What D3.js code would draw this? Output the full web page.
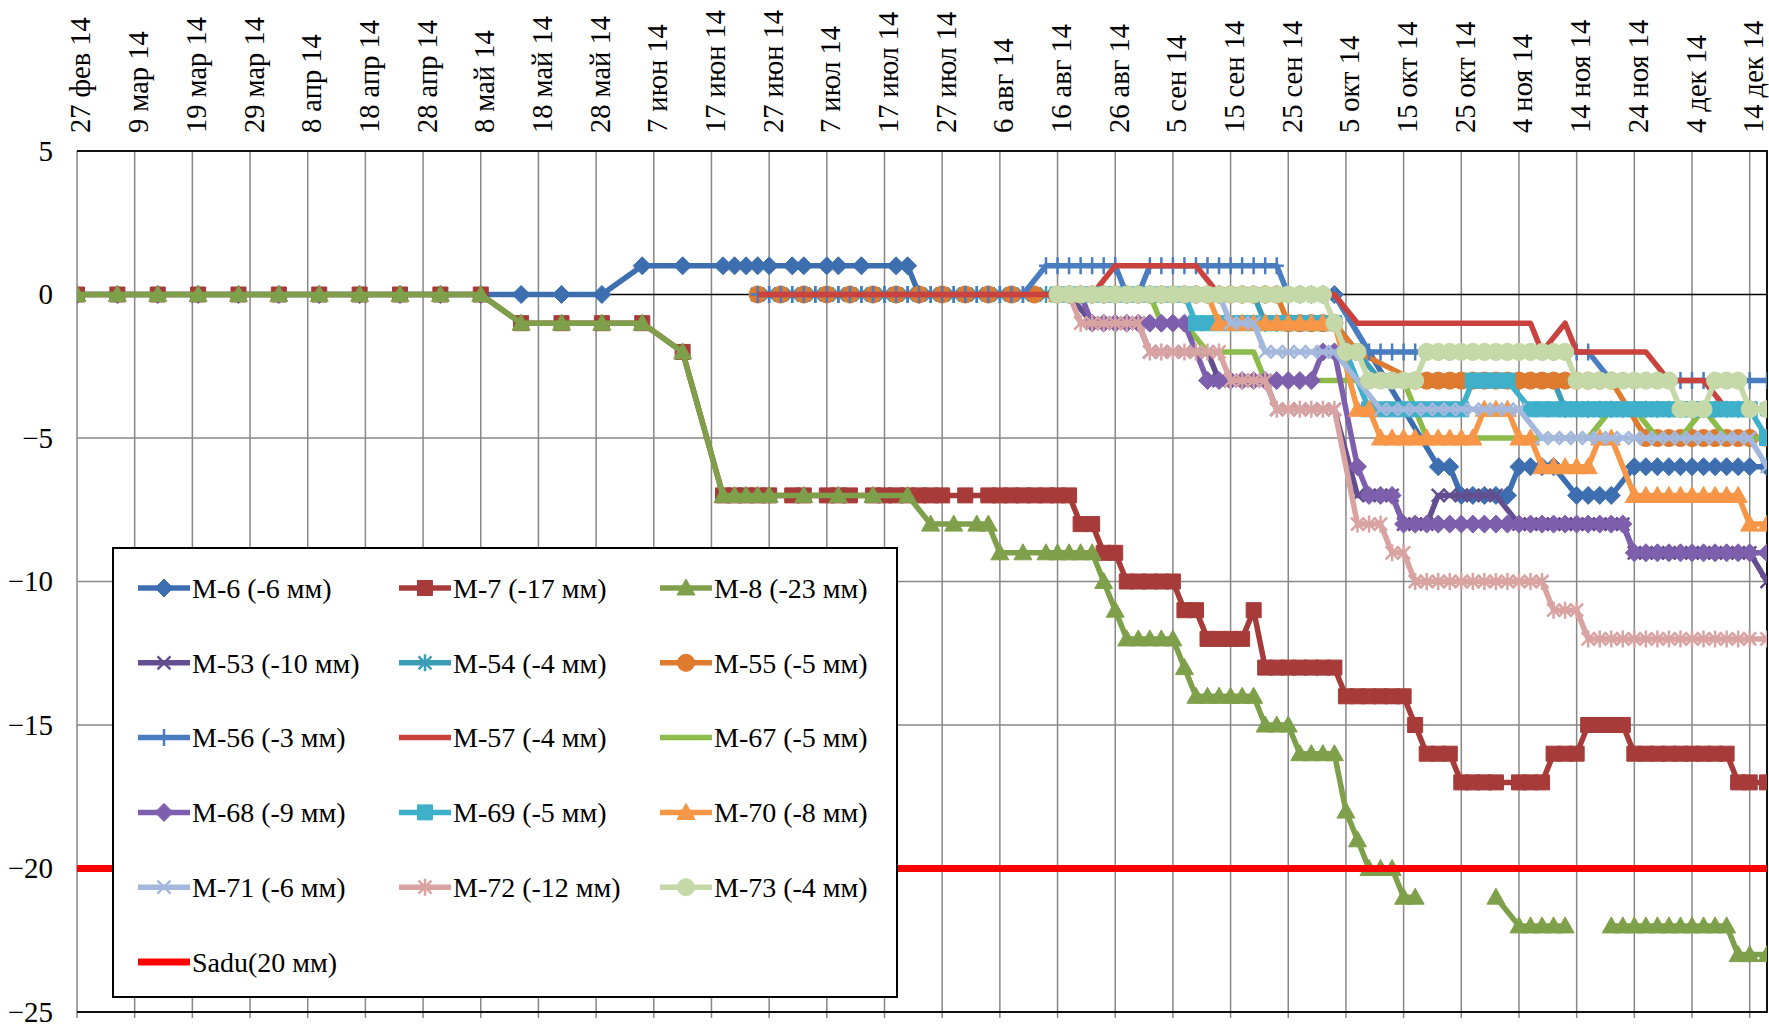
<!DOCTYPE html>
<html>
<head>
<meta charset="utf-8">
<script src="https://cdnjs.cloudflare.com/ajax/libs/d3/7.8.5/d3.min.js"></script>
<style>
  body { margin: 0; background: #fff; }
  svg text { font-family: "Times New Roman", "Liberation Serif", serif; fill: #000; }
</style>
</head>
<body>
<div id="app"></div>
<script>
var startDate = new Date(2014, 1, 27);

var tickDates = ["2014-02-27", "2014-03-09", "2014-03-19", "2014-03-29", "2014-04-08", "2014-04-18",
  "2014-04-28", "2014-05-08", "2014-05-18", "2014-05-28", "2014-06-07", "2014-06-17", "2014-06-27",
  "2014-07-07", "2014-07-17", "2014-07-27", "2014-08-06", "2014-08-16", "2014-08-26", "2014-09-05",
  "2014-09-15", "2014-09-25", "2014-10-05", "2014-10-15", "2014-10-25", "2014-11-04", "2014-11-14",
  "2014-11-24", "2014-12-04", "2014-12-14"];
var tickLabels = ["27 фев 14", "9 мар 14", "19 мар 14", "29 мар 14", "8 апр 14", "18 апр 14",
  "28 апр 14", "8 май 14", "18 май 14", "28 май 14", "7 июн 14", "17 июн 14", "27 июн 14",
  "7 июл 14", "17 июл 14", "27 июл 14", "6 авг 14", "16 авг 14", "26 авг 14", "5 сен 14",
  "15 сен 14", "25 сен 14", "5 окт 14", "15 окт 14", "25 окт 14", "4 ноя 14", "14 ноя 14",
  "24 ноя 14", "4 дек 14", "14 дек 14"];
var yTicks = [5, 0, -5, -10, -15, -20, -25];

// measurement days, counted from 27 фев 14
var days = [
  0, 7, 14, 21, 28, 35, 42, 49, 56, 63,
  70, 77, 84, 91, 98, 105, 112, 114, 116, 118,
  120, 122, 124, 126, 128, 130, 132, 134, 136, 138,
  140, 142, 144, 146, 148, 150, 152, 154, 156, 158,
  160, 162, 164, 166, 168, 170, 172, 174, 176, 178,
  180, 182, 184, 186, 188, 190, 192, 194, 196, 198,
  200, 202, 204, 206, 208, 210, 212, 214, 216, 218,
  220, 222, 224, 226, 228, 230, 232, 234, 236, 238,
  240, 242, 244, 246, 248, 250, 252, 254, 256, 258,
  260, 262, 264, 266, 268, 270, 272, 274, 276, 278,
  280, 282, 284, 286, 288, 290, 293
];

// settlement, mm (null = no reading)
var m6 = [
  0, 0, 0, 0, 0, 0, 0, 0, 0, 0,
  0, 0, 0, 0, 1, 1, 1, 1, 1, 1,
  1, null, 1, 1, null, 1, 1, null, 1, null,
  null, 1, 1, 0, null, null, null, null, null, null,
  null, null, null, null, null, 0, 0, 0, 0, 0,
  0, 0, 0, 0, 0, 0, 0, 0, 0, 0,
  0, 0, 0, 0, 0, 0, 0, 0, 0, 0,
  null, null, null, null, null, null, null, null, -6, -6,
  -7, -7, -7, -7, -7, -6, -6, -6, -6, null,
  -7, -7, -7, -7, null, -6, -6, -6, -6, -6,
  -6, -6, -6, -6, -6, -6, -6
];
var m7 = [
  0, 0, 0, 0, 0, 0, 0, 0, 0, 0,
  0, -1, -1, -1, -1, -2, -7, -7, -7, -7,
  -7, null, -7, -7, null, -7, -7, -7, null, -7,
  -7, -7, -7, -7, -7, -7, null, -7, null, -7,
  -7, -7, -7, -7, -7, -7, -7, -8, -8, -9,
  -9, -10, -10, -10, -10, -10, -11, -11, -12, -12,
  -12, -12, -11, -13, -13, -13, -13, -13, -13, -13,
  -14, -14, -14, -14, -14, -14, -15, -16, -16, -16,
  -17, -17, -17, -17, null, -17, -17, -17, -16, -16,
  -16, -15, -15, -15, -15, -16, -16, -16, -16, -16,
  -16, -16, -16, -16, -17, -17, -17
];
var m8 = [
  0, 0, 0, 0, 0, 0, 0, 0, 0, 0,
  0, -1, -1, -1, -1, -2, -7, -7, -7, -7,
  -7, null, null, -7, null, null, -7, null, null, -7,
  null, null, -7, null, -8, null, -8, null, -8, -8,
  -9, null, -9, null, -9, -9, -9, -9, -9, -10,
  -11, -12, -12, -12, -12, -12, -13, -14, -14, -14,
  -14, -14, -14, -15, -15, -15, -16, -16, -16, -16,
  -18, -19, -20, -20, -20, -21, -21, null, null, null,
  null, null, null, -21, null, -22, -22, -22, -22, -22,
  null, null, null, -22, -22, -22, -22, -22, -22, -22,
  -22, -22, -22, -22, -23, -23, -23
];
var m8Gaps = [[232, 246], [258, 266]];
var m53 = [
  null, null, null, null, null, null, null, null, null, null,
  null, null, null, null, null, null, null, null, null, 0,
  0, 0, 0, 0, 0, 0, 0, 0, 0, 0,
  0, 0, 0, 0, 0, 0, 0, 0, 0, 0,
  0, 0, 0, 0, 0, 0, 0, null, -1, -1,
  -1, -1, -1, -2, -2, -2, -2, -2, -2, -3,
  -3, -3, -3, -3, -4, -4, -4, -4, -4, -4,
  null, -7, -7, -7, -7, -8, -8, -8, -7, -7,
  -7, -7, -7, -7, null, -8, -8, -8, -8, -8,
  -8, -8, -8, -8, -8, -9, -9, -9, -9, -9,
  -9, -9, -9, -9, -9, -9, -10
];
var m54 = [
  null, null, null, null, null, null, null, null, null, null,
  null, null, null, null, null, null, null, null, null, 0,
  0, 0, 0, 0, 0, 0, 0, 0, 0, 0,
  0, 0, 0, 0, 0, 0, 0, 0, 0, 0,
  0, 0, 0, 0, 0, 0, 0, 0, 0, 0,
  0, 0, 0, 0, 0, 0, 0, 0, 0, 0,
  0, 0, 0, -1, -1, -1, -1, -1, -1, -1,
  null, null, null, -3, -3, -3, -3, -3, -3, -3,
  -3, -3, -3, -3, -3, -3, -3, -3, -3, -4,
  -4, -4, -4, -4, -4, -4, -4, -4, -4, -4,
  -4, -4, -4, -4, -4, -4, -4
];
var m55 = [
  null, null, null, null, null, null, null, null, null, null,
  null, null, null, null, null, null, null, null, null, 0,
  null, 0, null, 0, null, 0, null, 0, null, 0,
  null, 0, null, 0, null, 0, null, 0, null, 0,
  null, 0, null, 0, null, 0, 0, 0, 0, 0,
  0, 0, 0, 0, 0, 0, 0, 0, 0, 0,
  0, 0, 0, 0, 0, -1, -1, -1, -1, -1,
  null, -2, null, null, null, null, -3, -3, -3, -3,
  -3, -3, -3, -3, -3, -3, -3, -3, -3, -3,
  -3, -3, -3, -3, null, null, -5, -5, -5, -5,
  -5, -5, -5, -5, -5, -5, -5
];
var m56 = [
  null, null, null, null, null, null, null, null, null, null,
  null, null, null, null, null, null, null, null, null, 0,
  0, 0, 0, 0, 0, 0, 0, 0, 0, 0,
  0, 0, 0, 0, 0, 0, 0, 0, 0, 0,
  0, 0, 0, null, 1, 1, 1, 1, 1, 1,
  1, 0, 0, 1, 1, 1, 1, 1, 1, 1,
  1, 1, 1, 1, 1, 0, 0, 0, 0, 0,
  null, null, -2, -2, -2, -2, -2, -2, -2, -2,
  -2, -2, -2, -2, -2, -2, -2, -2, -2, -2,
  -2, -2, null, -3, -3, -3, -3, -3, -3, -3,
  -3, -3, -3, -3, -3, -3, -3
];
var m57 = [
  null, null, null, null, null, null, null, null, null, null,
  null, null, null, null, null, null, null, null, null, 0,
  0, 0, 0, 0, 0, 0, 0, 0, 0, 0,
  0, 0, 0, 0, 0, 0, 0, 0, 0, 0,
  0, 0, 0, 0, 0, 0, 0, 0, 0, null,
  1, 1, 1, 1, 1, 1, 1, 1, null, 0,
  0, 0, 0, 0, 0, 0, 0, 0, 0, 0,
  null, -1, -1, -1, -1, -1, -1, -1, -1, -1,
  -1, -1, -1, -1, -1, -1, -1, -2, null, -1,
  -2, -2, -2, -2, -2, -2, -2, null, -3, -3,
  -3, -3, null, -4, -4, -4, -4
];
var m67 = [
  null, null, null, null, null, null, null, null, null, null,
  null, null, null, null, null, null, null, null, null, null,
  null, null, null, null, null, null, null, null, null, null,
  null, null, null, null, null, null, null, null, null, null,
  null, null, null, null, null, 0, 0, 0, 0, 0,
  0, 0, 0, 0, -1, -1, -1, null, -2, -2,
  -2, -2, -2, -3, -3, -3, -3, -3, -3, -3,
  -3, -3, -3, -3, -3, -3, null, -5, -5, -5,
  -5, -5, -5, -5, -5, -5, -5, -5, -5, -5,
  -5, -5, null, -4, -4, -4, null, -5, -5, -5,
  null, -4, null, -5, -5, -5, -5
];
var m68 = [
  null, null, null, null, null, null, null, null, null, null,
  null, null, null, null, null, null, null, null, null, null,
  null, null, null, null, null, null, null, null, null, null,
  null, null, null, null, null, null, null, null, null, null,
  null, null, null, null, null, 0, 0, 0, -1, -1,
  -1, -1, -1, -1, -1, -1, -1, null, -3, -3,
  -3, -3, -3, -3, -3, -3, -3, -3, -2, -2,
  null, -6, -7, -7, -7, -8, -8, -8, -8, -8,
  -8, -8, -8, -8, -8, -8, -8, -8, -8, -8,
  -8, -8, -8, -8, -8, -9, -9, -9, -9, -9,
  -9, -9, -9, -9, -9, -9, -9
];
var m69 = [
  null, null, null, null, null, null, null, null, null, null,
  null, null, null, null, null, null, null, null, null, null,
  null, null, null, null, null, null, null, null, null, null,
  null, null, null, null, null, null, null, null, null, null,
  null, null, null, null, null, 0, 0, 0, 0, 0,
  0, 0, 0, 0, 0, 0, 0, -1, -1, -1,
  -1, -1, -1, -1, -1, -1, -1, -1, -1, -1,
  null, null, -4, -4, -4, -4, -4, -4, -4, -4,
  -4, -3, -3, -3, -3, null, -4, -4, -4, -4,
  -4, -4, -4, -4, -4, -4, -4, -4, -4, -4,
  -4, -4, -4, -4, -4, -4, -5
];
var m70 = [
  null, null, null, null, null, null, null, null, null, null,
  null, null, null, null, null, null, null, null, null, null,
  null, null, null, null, null, null, null, null, null, null,
  null, null, null, null, null, null, null, null, null, null,
  null, null, null, null, null, 0, 0, 0, 0, 0,
  0, 0, 0, 0, 0, 0, 0, 0, 0, -1,
  -1, -1, -1, -1, -1, -1, -1, -1, -1, -1,
  null, -4, -4, -5, -5, -5, -5, -5, -5, -5,
  -5, -5, -4, -4, -4, -5, -5, -6, -6, -6,
  -6, -6, -5, -5, null, -7, -7, -7, -7, -7,
  -7, -7, -7, -7, -7, -8, -8
];
var m71 = [
  null, null, null, null, null, null, null, null, null, null,
  null, null, null, null, null, null, null, null, null, null,
  null, null, null, null, null, null, null, null, null, null,
  null, null, null, null, null, null, null, null, null, null,
  null, null, null, null, null, 0, 0, 0, 0, 0,
  0, 0, 0, 0, 0, 0, 0, 0, 0, 0,
  -1, -1, -1, -2, -2, -2, -2, -2, -2, -2,
  null, null, null, -4, -4, -4, -4, -4, -4, -4,
  -4, -4, -4, -4, -4, -4, null, -5, -5, -5,
  -5, -5, -5, -5, -5, -5, -5, -5, -5, -5,
  -5, -5, -5, -5, -5, -5, -6
];
var m72 = [
  null, null, null, null, null, null, null, null, null, null,
  null, null, null, null, null, null, null, null, null, null,
  null, null, null, null, null, null, null, null, null, null,
  null, null, null, null, null, null, null, null, null, null,
  null, null, null, null, null, 0, 0, -1, -1, -1,
  -1, -1, -1, -2, -2, -2, -2, -2, -2, -2,
  -3, -3, -3, -3, -4, -4, -4, -4, -4, -4,
  null, -8, -8, -8, -9, -9, -10, -10, -10, -10,
  -10, -10, -10, -10, -10, -10, -10, -10, -11, -11,
  -11, -12, -12, -12, -12, -12, -12, -12, -12, -12,
  -12, -12, -12, -12, -12, -12, -12
];
var m73 = [
  null, null, null, null, null, null, null, null, null, null,
  null, null, null, null, null, null, null, null, null, null,
  null, null, null, null, null, null, null, null, null, null,
  null, null, null, null, null, null, null, null, null, null,
  null, null, null, null, null, 0, 0, 0, 0, 0,
  0, 0, 0, 0, 0, 0, 0, 0, 0, 0,
  0, 0, 0, 0, 0, 0, 0, 0, 0, -1,
  -2, -2, -3, -3, -3, -3, -3, -2, -2, -2,
  -2, -2, -2, -2, -2, -2, -2, -2, -2, -2,
  -3, -3, -3, -3, -3, -3, -3, -3, -3, -4,
  -4, -4, -3, -3, -3, -4, -4
];
// allowable settlement
var saduDays = [0, 293];
var sadu = [-20, -20];

var seriesList = [
  { name: 'M-6 (-6 мм)', values: m6, color: '#3d6fb0', marker: 'diamond' },
  { name: 'M-7 (-17 мм)', values: m7, color: '#a63b39', marker: 'square' },
  { name: 'M-8 (-23 мм)', values: m8, color: '#7fa04a', marker: 'triangle', gaps: m8Gaps },
  { name: 'M-53 (-10 мм)', values: m53, color: '#634e8f', marker: 'x' },
  { name: 'M-54 (-4 мм)', values: m54, color: '#3b9cb6', marker: 'star' },
  { name: 'M-55 (-5 мм)', values: m55, color: '#de7b2f', marker: 'circle' },
  { name: 'M-56 (-3 мм)', values: m56, color: '#4a7cc0', marker: 'plus' },
  { name: 'M-57 (-4 мм)', values: m57, color: '#c9423e', marker: 'none' },
  { name: 'M-67 (-5 мм)', values: m67, color: '#8dbb4a', marker: 'none' },
  { name: 'M-68 (-9 мм)', values: m68, color: '#7d5fae', marker: 'diamond' },
  { name: 'M-69 (-5 мм)', values: m69, color: '#3eb0ca', marker: 'square' },
  { name: 'M-70 (-8 мм)', values: m70, color: '#f79646', marker: 'triangle' },
  { name: 'M-71 (-6 мм)', values: m71, color: '#a3b8dc', marker: 'x' },
  { name: 'M-72 (-12 мм)', values: m72, color: '#d9a3a2', marker: 'star' },
  { name: 'M-73 (-4 мм)', values: m73, color: '#c5d9a8', marker: 'circle' }
];

var width = 1769,
    height = 1027,
    plotLeft = 77,
    plotRight = 1767,
    plotTop = 151,
    plotBottom = 1012;

var parseDate = d3.timeParse('%Y-%m-%d');
var dayDate = function (d) { return d3.timeDay.offset(startDate, d); };

var xScale = d3.scaleTime()
    .domain([startDate, dayDate(d3.max(days))])
    .range([plotLeft, plotRight]);
var yScale = d3.scaleLinear().domain([-25, 5]).range([plotBottom, plotTop]);

var svg = d3.select('#app')
    .append('svg')
    .attr('width', width)
    .attr('height', height)
    .style('display', 'block');

svg.append('rect').attr('width', width).attr('height', height).attr('fill', '#fff');

svg.append('defs').append('clipPath').attr('id', 'plotClip')
    .append('rect')
    .attr('x', plotLeft).attr('y', plotTop)
    .attr('width', plotRight - plotLeft).attr('height', plotBottom - plotTop);

var tickDateObjs = tickDates.map(parseDate);

// grid
svg.append('g')
    .selectAll('line')
    .data(tickDateObjs)
    .enter()
    .append('line')
    .attr('x1', function (d) { return xScale(d); })
    .attr('x2', function (d) { return xScale(d); })
    .attr('y1', plotTop)
    .attr('y2', plotBottom + 6)
    .attr('stroke', '#878787')
    .attr('stroke-width', 1.5);

svg.append('g')
    .selectAll('line')
    .data(yTicks.filter(function (v) { return v < 0 && v > -25; }))
    .enter()
    .append('line')
    .attr('x1', plotLeft)
    .attr('x2', plotRight)
    .attr('y1', function (d) { return yScale(d); })
    .attr('y2', function (d) { return yScale(d); })
    .attr('stroke', '#878787')
    .attr('stroke-width', 1.5);

svg.append('line')
    .attr('x1', plotLeft).attr('x2', plotRight)
    .attr('y1', yScale(0)).attr('y2', yScale(0))
    .attr('stroke', '#000').attr('stroke-width', 1.5);

svg.append('path')
    .attr('d', 'M' + plotLeft + ',' + plotTop + 'H' + plotRight + 'V' + plotBottom + 'H' + plotLeft)
    .attr('fill', 'none')
    .attr('stroke', '#111')
    .attr('stroke-width', 2);

// axes
var yAxis = d3.axisLeft(yScale).tickValues(yTicks).tickSize(0).tickPadding(24);
svg.append('g')
    .attr('transform', 'translate(' + plotLeft + ',0)')
    .call(yAxis)
    .call(function (g) { g.select('.domain').remove(); })
    .selectAll('text')
    .attr('font-family', '"Times New Roman", "Liberation Serif", serif')
    .attr('font-size', 29)
    .attr('fill', '#000');

var xAxis = d3.axisTop(xScale)
    .tickValues(tickDateObjs)
    .tickSize(0)
    .tickFormat(function (d, i) { return tickLabels[i]; });
svg.append('g')
    .attr('transform', 'translate(0,' + plotTop + ')')
    .call(xAxis)
    .call(function (g) { g.select('.domain').remove(); })
    .selectAll('text')
    .attr('font-family', '"Times New Roman", "Liberation Serif", serif')
    .attr('font-size', 28.5)
    .attr('fill', '#000')
    .attr('text-anchor', 'start')
    .attr('transform', 'rotate(-90)')
    .attr('x', 18)
    .attr('y', 3)
    .attr('dy', '0.35em');

// markers
var markerShapes = {
  diamond: 'M0,-9L9,0L0,9L-9,0Z',
  square: 'M-7.5,-7.5H7.5V7.5H-7.5Z',
  triangle: 'M0,-9L9,7L-9,7Z',
  circle: d3.symbol(d3.symbolCircle, 230)(),
  x: 'M-6.5,-6.5L6.5,6.5M-6.5,6.5L6.5,-6.5',
  star: 'M-6.5,-6.5L6.5,6.5M-6.5,6.5L6.5,-6.5M0,-8.5V8.5',
  plus: 'M0,-8.5V8.5M-7,0H7'
};
var filledMarkers = ['diamond', 'square', 'triangle', 'circle'];

function drawMarker(sel, s) {
  if (s.marker === 'none') return;
  var filled = filledMarkers.indexOf(s.marker) >= 0;
  sel.attr('d', markerShapes[s.marker])
    .attr('fill', filled ? s.color : 'none')
    .attr('stroke', s.color)
    .attr('stroke-width', filled ? 1 : 2.5);
}

var line = d3.line()
    .x(function (d) { return xScale(dayDate(d.day)); })
    .y(function (d) { return yScale(d.v); });

var plot = svg.append('g').attr('clip-path', 'url(#plotClip)');

seriesList.forEach(function (s) {
  var pts = days.map(function (d, i) { return { day: d, v: s.values[i] }; })
      .filter(function (p) { return p.v !== null; });
  var segments = [[]];
  pts.forEach(function (p, i) {
    if (i > 0 && s.gaps) {
      var prev = pts[i - 1];
      var broken = s.gaps.some(function (g) { return prev.day === g[0] && p.day === g[1]; });
      if (broken) segments.push([]);
    }
    segments[segments.length - 1].push(p);
  });

  var g = plot.append('g');
  g.selectAll('path.line')
      .data(segments)
      .enter()
      .append('path')
      .attr('class', 'line')
      .attr('d', line)
      .attr('fill', 'none')
      .attr('stroke', s.color)
      .attr('stroke-width', 5.5)
      .attr('stroke-linejoin', 'round');

  if (s.marker !== 'none') {
    g.selectAll('path.mk')
        .data(pts)
        .enter()
        .append('path')
        .attr('class', 'mk')
        .attr('transform', function (d) {
          return 'translate(' + xScale(dayDate(d.day)) + ',' + yScale(d.v) + ')';
        })
        .call(drawMarker, s);
  }
});

// Sadu line
plot.append('path')
    .datum(saduDays.map(function (d, i) { return { day: d, v: sadu[i] }; }))
    .attr('d', line)
    .attr('fill', 'none')
    .attr('stroke', '#ff0000')
    .attr('stroke-width', 7);

// legend
var legendItems = seriesList.concat([{ name: 'Sadu(20 мм)', color: '#ff0000', marker: 'none', thick: true }]);
var legendCols = [138, 399, 660];
var legendTop = 588, legendStep = 74.8;

var legend = svg.append('g');
legend.append('rect')
    .attr('x', 113).attr('y', 548)
    .attr('width', 784).attr('height', 449)
    .attr('fill', '#fff')
    .attr('stroke', '#000')
    .attr('stroke-width', 2);

var item = legend.selectAll('g.item')
    .data(legendItems)
    .enter()
    .append('g')
    .attr('class', 'item')
    .attr('transform', function (d, i) {
      return 'translate(' + legendCols[i % 3] + ',' + (legendTop + Math.floor(i / 3) * legendStep) + ')';
    });

item.append('line')
    .attr('x1', 0).attr('x2', 52)
    .attr('stroke', function (d) { return d.color; })
    .attr('stroke-width', function (d) { return d.thick ? 7 : 5.5; });

item.filter(function (d) { return d.marker !== 'none'; })
    .append('path')
    .attr('transform', 'translate(26,0)')
    .each(function (d) { d3.select(this).call(drawMarker, d); });

item.append('text')
    .attr('x', 54)
    .attr('dy', '0.35em')
    .attr('font-size', 28)
    .text(function (d) { return d.name; });
</script>
</body>
</html>
